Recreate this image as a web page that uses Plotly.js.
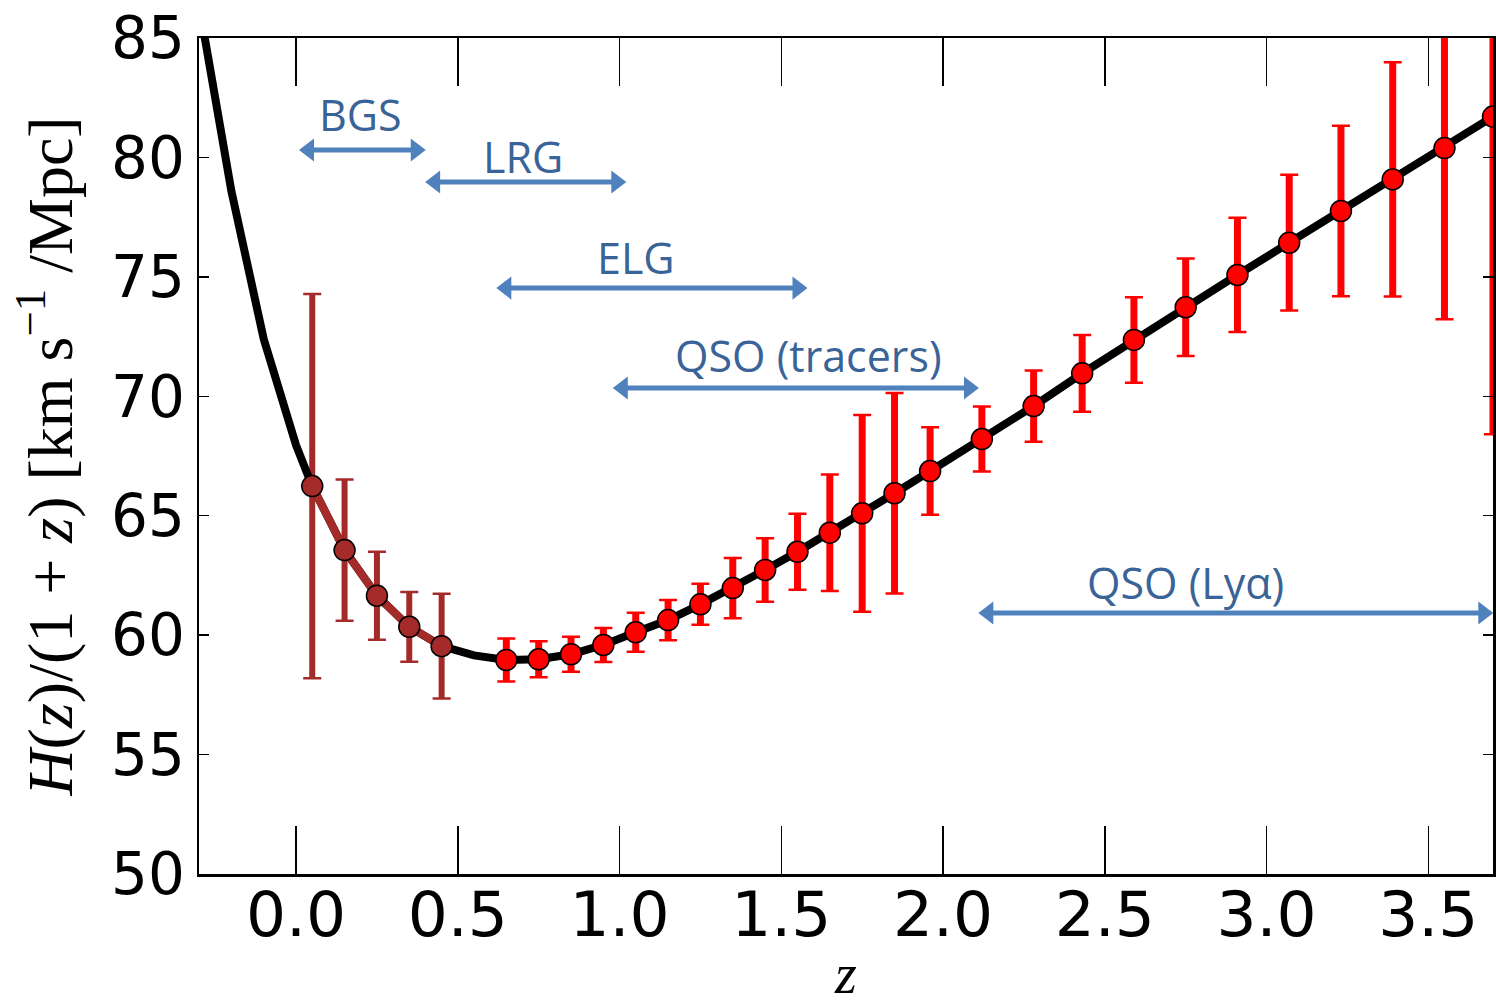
<!DOCTYPE html>
<html>
<head>
<meta charset="utf-8">
<script src="https://cdn.plot.ly/plotly-3.0.1.min.js"></script>
<style>
  html, body { margin: 0; padding: 0; background: #ffffff; }
  #chart { width: 1496px; height: 1005px; }
</style>
</head>
<body>
<div id="chart"></div>
<script>
// ---- Data ----
// BGS bins (brown)
const z_bgs   = [0.05, 0.15, 0.25, 0.35, 0.45];
const h_bgs   = [66.24, 63.56, 61.65, 60.35, 59.54];
const err_bgs = [8.04, 2.96, 1.84, 1.46, 2.19];

// LRG / ELG / QSO tracer bins (red)
const z_gal   = [0.65, 0.75, 0.85, 0.95, 1.05, 1.15, 1.25, 1.35, 1.45, 1.55, 1.65, 1.75, 1.85];
const h_gal   = [58.96, 58.99, 59.20, 59.59, 60.12, 60.63, 61.29, 61.97, 62.73, 63.49, 64.29, 65.10, 65.94];
const err_gal = [0.90, 0.75, 0.73, 0.71, 0.82, 0.84, 0.86, 1.26, 1.33, 1.59, 2.44, 4.12, 4.20];

// QSO Lyman-alpha bins (red)
const z_lya   = [1.96, 2.12, 2.28, 2.43, 2.59, 2.75, 2.91, 3.07, 3.23, 3.39, 3.55, 3.70];
const h_lya   = [66.87, 68.21, 69.59, 70.96, 72.36, 73.73, 75.08, 76.43, 77.76, 79.08, 80.39, 81.71];
const err_lya = [1.83, 1.36, 1.49, 1.61, 1.79, 2.04, 2.39, 2.84, 3.57, 4.90, 7.17, 13.30];

// Fiducial model curve (black)
const z_curve = [-0.3, -0.2, -0.1, 0.0, 0.05, 0.15, 0.25, 0.35, 0.45, 0.55, 0.65, 0.75, 0.85, 0.95,
                 1.05, 1.15, 1.25, 1.35, 1.45, 1.55, 1.65, 1.75, 1.85, 1.96, 2.12, 2.28, 2.43, 2.59,
                 2.75, 2.91, 3.07, 3.23, 3.39, 3.55, 3.70];
const h_curve = [86.4, 78.6, 72.4, 67.95, 66.24, 63.56, 61.65, 60.35, 59.54, 59.15, 58.96, 58.99, 59.20, 59.59,
                 60.12, 60.63, 61.29, 61.97, 62.73, 63.49, 64.29, 65.10, 65.94, 66.87, 68.21, 69.59, 70.96, 72.36,
                 73.73, 75.08, 76.43, 77.76, 79.08, 80.39, 81.71];

// Survey redshift ranges (double arrows, arrowhead centres) and labels
const survey_names = ["BGS", "LRG", "ELG", "QSO (tracers)", "QSO (Ly\u03b1)"];
const survey_zmin  = [0.04, 0.43, 0.65, 1.01, 2.14];
const survey_zmax  = [0.37, 0.99, 1.55, 2.08, 3.67];
const survey_yarr  = [80.31, 78.97, 74.53, 70.35, 60.93];
const survey_xlab  = [0.20, 0.70, 1.05, 1.585, 2.75];
const survey_ylab  = [81.78, 80.02, 75.79, 71.69, 62.22];

const x_ticks = [0.0, 0.5, 1.0, 1.5, 2.0, 2.5, 3.0, 3.5];
const y_ticks = [50, 55, 60, 65, 70, 75, 80, 85];

// ---- Styles ----
const RED = "#ff0000";
const BROWN = "#a52a2a";
const BLUE = "#4f81bd";
const TEXTBLUE = "#3a6398";

function barTrace(x, y, e, color, thick, width) {
  return {
    type: "scatter", mode: "markers", x: x, y: y,
    marker: { size: 1, color: "rgba(0,0,0,0)" },
    error_y: { type: "data", array: e, visible: true, color: color, thickness: thick, width: width },
    hoverinfo: "skip", showlegend: false
  };
}

const traces = [];
// survey range arrows
for (let i = 0; i < survey_names.length; i++) {
  traces.push({
    type: "scatter", mode: "lines+markers",
    x: [survey_zmin[i], survey_zmax[i]], y: [survey_yarr[i], survey_yarr[i]],
    line: { color: BLUE, width: 5 },
    marker: { symbol: ["triangle-left", "triangle-right"], size: 20, color: BLUE, line: { width: 0 } },
    cliponaxis: false, showlegend: false, hoverinfo: "skip"
  });
}
traces.push(
  barTrace(z_bgs, h_bgs, err_bgs, BROWN, 6, 0),
  barTrace(z_gal, h_gal, err_gal, RED, 7, 0),
  barTrace(z_lya, h_lya, err_lya, RED, 7, 0),
  barTrace(z_bgs, h_bgs, err_bgs, BROWN, 2.5, 9),
  barTrace(z_gal, h_gal, err_gal, RED, 2.5, 9),
  barTrace(z_lya, h_lya, err_lya, RED, 2.5, 9),
  {
    type: "scatter", mode: "lines", x: z_curve, y: h_curve,
    line: { color: "#000000", width: 8 }, showlegend: false
  },
  {
    type: "scatter", mode: "lines+markers", x: z_bgs, y: h_bgs,
    line: { color: BROWN, width: 8 },
    marker: { size: 21, color: BROWN, line: { color: "#000000", width: 1.5 } },
    showlegend: false
  },
  {
    type: "scatter", mode: "markers", x: z_gal, y: h_gal,
    marker: { size: 21, color: RED, line: { color: "#000000", width: 1.5 } },
    showlegend: false
  },
  {
    type: "scatter", mode: "markers", x: z_lya, y: h_lya,
    marker: { size: 21, color: RED, line: { color: "#000000", width: 1.5 } },
    showlegend: false
  }
);

const annotations = [];
for (let i = 0; i < survey_names.length; i++) {
  annotations.push({
    x: survey_xlab[i], y: survey_ylab[i], xref: "x", yref: "y",
    text: survey_names[i], showarrow: false,
    font: { family: "Open Sans, sans-serif", size: 43, color: TEXTBLUE },
    xanchor: "center", yanchor: "middle"
  });
}

const layout = {
  width: 1496, height: 1005,
  paper_bgcolor: "#ffffff", plot_bgcolor: "#ffffff",
  margin: { l: 199, r: 3, t: 38, b: 131 },
  showlegend: false,
  xaxis: {
    range: [-0.3, 3.7], tickvals: x_ticks, ticktext: x_ticks.map(v => v.toFixed(1)),
    ticks: "inside", ticklen: 48, tickwidth: 1.5, tickcolor: "#000000",
    showline: true, linewidth: 2.5, linecolor: "#000000", mirror: "ticks",
    showgrid: false, zeroline: false, ticklabelstandoff: -16,
    tickfont: { family: "DejaVu Sans, sans-serif", size: 63, color: "#000000" },
    title: { text: "<i>z</i>", font: { family: "Liberation Serif, serif", size: 56, color: "#000000" }, standoff: 26 }
  },
  yaxis: {
    range: [50, 85], tickvals: y_ticks,
    ticks: "inside", ticklen: 10, tickwidth: 1.5, tickcolor: "#000000",
    showline: true, linewidth: 2.5, linecolor: "#000000", mirror: "ticks",
    showgrid: false, zeroline: false,
    tickfont: { family: "DejaVu Sans, sans-serif", size: 58, color: "#000000" },
    title: {
      text: "<i>H</i>(<i>z</i>)/(1 + <i>z</i>) [km s<sup>\u22121</sup> /Mpc]",
      font: { family: "Liberation Serif, serif", size: 64, color: "#000000" }, standoff: 18
    }
  },
  annotations: annotations
};

Plotly.newPlot("chart", traces, layout, { displayModeBar: false, staticPlot: true });
</script>
</body>
</html>
